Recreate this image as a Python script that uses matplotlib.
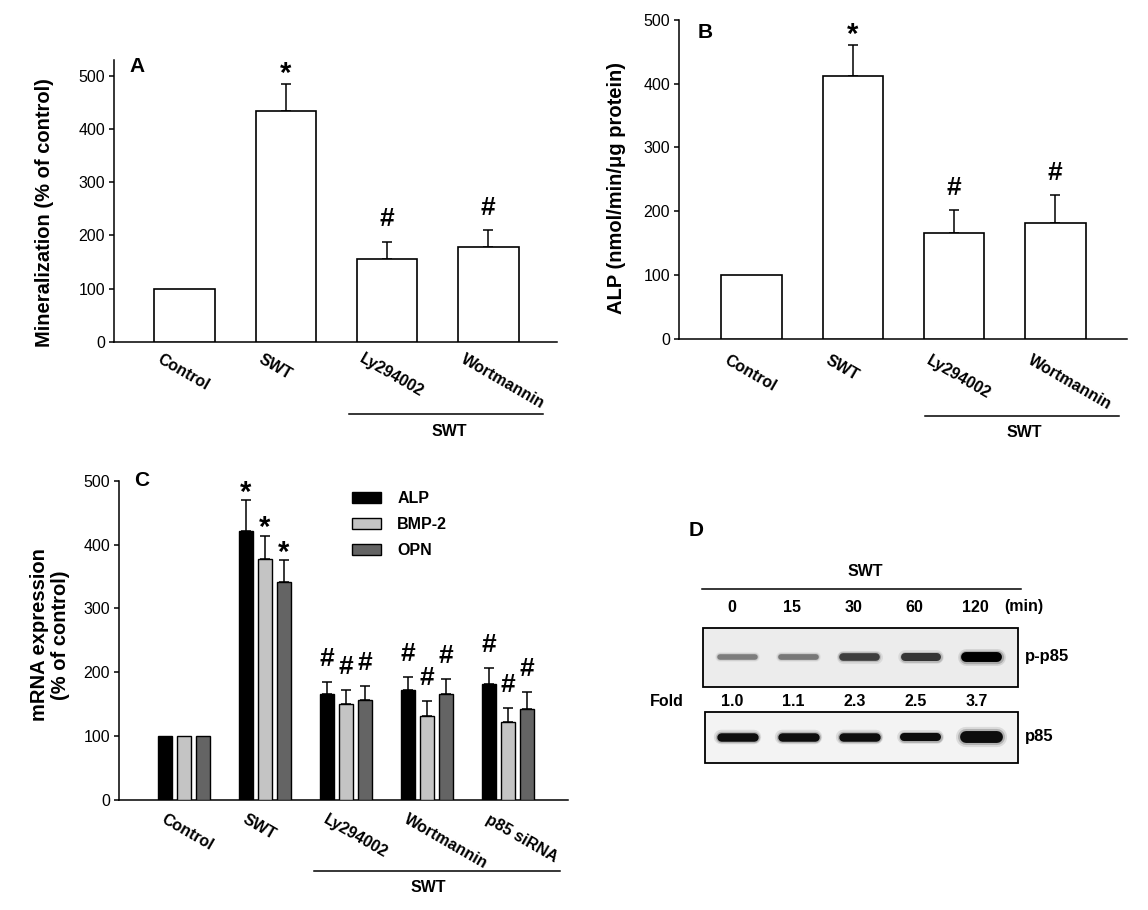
import numpy as np
import matplotlib
matplotlib.use('Agg')
import matplotlib.pyplot as plt
import matplotlib.transforms as mtransforms
from matplotlib.patches import Rectangle

plt.rcParams['font.family'] = ['Liberation Sans', 'DejaVu Sans']
plt.rcParams['axes.linewidth'] = 1.1
plt.rcParams['ytick.major.width'] = 1.1
plt.rcParams['ytick.major.size'] = 3.5
plt.rcParams['ytick.major.pad'] = 3

# ---------------- data ----------------
groups_ab = ['Control', 'SWT', 'Ly294002', 'Wortmannin']
mineral_mean = [100, 434, 156, 178]
mineral_err = [0, 51, 32, 32]
mineral_marks = ['', '*', '#', '#']

alp_act_mean = [100, 412, 166, 182]
alp_act_err = [0, 49, 36, 43]
alp_act_marks = ['', '*', '#', '#']

groups_c = ['Control', 'SWT', 'Ly294002', 'Wortmannin', 'p85 siRNA']
genes = ['ALP', 'BMP-2', 'OPN']
mrna_alp = [100, 421, 166, 172, 181]
mrna_alp_err = [0, 48, 19, 20, 25]
mrna_alp_marks = ['', '*', '#', '#', '#']
mrna_bmp2 = [100, 377, 151, 131, 122]
mrna_bmp2_err = [0, 37, 22, 24, 22]
mrna_bmp2_marks = ['', '*', '#', '#', '#']
mrna_opn = [100, 341, 156, 166, 142]
mrna_opn_err = [0, 35, 22, 24, 27]
mrna_opn_marks = ['', '*', '#', '#', '#']
gene_colors = ['#000000', '#c4c4c4', '#646464']

blot_times = ['0', '15', '30', '60', '120']
fold_change = [1.0, 1.1, 2.3, 2.5, 3.7]
p85_level = [1.0, 1.0, 1.0, 0.95, 1.4]

# ---------------- figure ----------------
W, H = 1148, 910
fig = plt.figure(figsize=(W / 100, H / 100), dpi=100)


def px_axes(x0, y0, x1, y1):
    return fig.add_axes([x0 / W, 1 - y1 / H, (x1 - x0) / W, (y1 - y0) / H])


def ftext(x, y, s, **kw):
    return fig.text(x / W, 1 - y / H, s, **kw)


def add_mark(ax, x, y, mk, star_off, hash_off):
    if not mk:
        return
    if mk == '*':
        ax.annotate('*', (x, y), xytext=(0, star_off), textcoords='offset points',
                    ha='center', va='baseline', fontsize=21, fontweight='bold')
    else:
        ax.annotate('#', (x, y), xytext=(0, hash_off), textcoords='offset points',
                    ha='center', va='baseline', fontsize=19, fontweight='bold')


def style_axes(ax, names, xpos, shift_pt, pad):
    for s in ['top', 'right']:
        ax.spines[s].set_visible(False)
    ax.set_yticks(range(0, 501, 100))
    ax.tick_params(axis='y', labelsize=11.5)
    ax.set_xticks(xpos)
    ax.set_xticklabels(names, rotation=-30, ha='left', fontweight='bold', fontsize=11.5)
    ax.tick_params(axis='x', length=0, pad=pad)
    off = mtransforms.ScaledTranslation(-shift_pt / 72, 0, fig.dpi_scale_trans)
    for lbl in ax.get_xticklabels():
        lbl.set_transform(lbl.get_transform() + off)


def group_line(ax, x0, x1, yl, xt, yt):
    tr = mtransforms.blended_transform_factory(ax.transData, ax.transAxes)
    ax.plot([x0, x1], [yl, yl], color='black', lw=1.1, transform=tr, clip_on=False)
    ax.text(xt, yt, 'SWT', transform=tr, ha='center', va='center',
            fontsize=11.5, fontweight='bold')


def simple_panel(ax, names, means, errs, marks, ymax, xlim):
    x = np.arange(len(names))
    ax.bar(x, means, width=0.6, color='white', edgecolor='black', linewidth=1.2, zorder=3)
    e = np.array(errs, float)
    m = e > 0
    ax.errorbar(x[m], np.array(means, float)[m], yerr=[np.zeros(m.sum()), e[m]],
                fmt='none', ecolor='black', elinewidth=1.1, capsize=3.8, capthick=1.1, zorder=2)
    for xi, mu, er, mk in zip(x, means, errs, marks):
        add_mark(ax, xi, mu + er, mk, 1.5, 11)
    ax.set_xlim(*xlim)
    ax.set_ylim(0, ymax)
    return x


# ---- Panel A ----
axA = px_axes(114, 60, 557, 341.7)
xA = simple_panel(axA, groups_ab, mineral_mean, mineral_err, mineral_marks, 530, (-0.70, 3.68))
style_axes(axA, groups_ab, xA, 21.6, 7)
group_line(axA, 1.62, 3.54, -0.257, 2.61, -0.318)
ftext(45, 213, 'Mineralization (% of control)', rotation=90, ha='center', va='center',
      fontsize=14.5, fontweight='bold')
ftext(137, 66, 'A', ha='center', va='center', fontsize=15, fontweight='bold')

# ---- Panel B ----
axB = px_axes(679, 20, 1127, 338.7)
xB = simple_panel(axB, groups_ab, alp_act_mean, alp_act_err, alp_act_marks, 500, (-0.72, 3.71))
style_axes(axB, groups_ab, xB, 21.6, 10)
group_line(axB, 1.71, 3.63, -0.2416, 2.69, -0.293)
ftext(616, 188, 'ALP (nmol/min/\u03bcg protein)', rotation=90, ha='center', va='center',
      fontsize=14.5, fontweight='bold')
ftext(705, 33, 'B', ha='center', va='center', fontsize=15, fontweight='bold')

# ---- Panel C ----
axC = px_axes(119, 480.7, 568, 800)
xC = np.arange(len(groups_c))
offsets = [-0.235, 0.0, 0.235]
series = [(mrna_alp, mrna_alp_err, mrna_alp_marks),
          (mrna_bmp2, mrna_bmp2_err, mrna_bmp2_marks),
          (mrna_opn, mrna_opn_err, mrna_opn_marks)]
for (vals, errs, marks), col, off, name in zip(series, gene_colors, offsets, genes):
    xs = xC + off
    axC.bar(xs, vals, width=0.17, color=col, edgecolor='black', linewidth=1.0,
            label=name, zorder=3)
    e = np.array(errs, float)
    m = e > 0
    axC.errorbar(xs[m], np.array(vals, float)[m], yerr=[np.zeros(m.sum()), e[m]],
                 fmt='none', ecolor='black', elinewidth=1.1, capsize=3.8, capthick=1.1, zorder=2)
    for xi, mu, er, mk in zip(xs, vals, errs, marks):
        add_mark(axC, xi, mu + er, mk, -0.5, 11.5)
axC.set_xlim(-0.80, 4.74)
axC.set_ylim(0, 500)
style_axes(axC, groups_c, xC, 18, 8.5)
group_line(axC, 1.60, 4.64, -0.2214, 3.02, -0.2756)
axC.legend(loc='upper left', bbox_to_anchor=(0.52, 0.967), frameon=False,
           prop={'weight': 'bold', 'size': 11.5}, handlelength=1.8, handleheight=0.62,
           handletextpad=1.0, labelspacing=0.68, borderpad=0, borderaxespad=0)
ftext(50, 635, 'mRNA expression\n(% of control)', rotation=90, ha='center', va='center',
      fontsize=14.5, fontweight='bold', linespacing=1.15)
ftext(142, 480, 'C', ha='center', va='center', fontsize=15, fontweight='bold')

# ---- Panel D (western blot) ----
axD = px_axes(630, 500, 1148, 790)
axD.set_xlim(630, 1148)
axD.set_ylim(790, 500)
axD.axis('off')
lane0, pitch = 737.5, 61.0
lanes = lane0 + pitch * np.arange(len(blot_times))


def band(ax, xc, yc, half, thick_px, gray):
    lw = thick_px * 72 / 100
    xs = [xc - half + thick_px / 2, xc + half - thick_px / 2]
    col = str(gray)
    for k, a in zip([1.7, 1.35], [0.10, 0.2]):
        ax.plot(xs, [yc, yc], color=col, lw=lw * k, alpha=a, solid_capstyle='round')
    ax.plot(xs, [yc, yc], color=col, lw=lw, solid_capstyle='round')


axD.add_patch(Rectangle((703, 628), 315, 59, facecolor='#ececec', edgecolor='black', lw=1.3))
axD.add_patch(Rectangle((705, 712), 313, 51, facecolor='#f3f3f3', edgecolor='black', lw=1.3))
for xc, f in zip(lanes, fold_change):
    g = float(np.clip(0.68 - 0.19 * f, 0, 1))
    band(axD, xc, 657, 20, 4 + 1.6 * f, g)
for xc, lv in zip(lanes, p85_level):
    band(axD, xc, 737, 21, 8.5 * lv, 0.05)

axD.text(696, 530, 'D', ha='center', va='center', fontsize=15, fontweight='bold')
axD.text(865, 572, 'SWT', ha='center', va='center', fontsize=11.5, fontweight='bold')
axD.plot([702, 1021], [589, 589], color='black', lw=1.1)
for xc, t in zip(lanes, blot_times):
    axD.text(xc - 6, 608, t, ha='center', va='center', fontsize=11.5, fontweight='bold')
axD.text(1024, 607, '(min)', ha='center', va='center', fontsize=11.5, fontweight='bold')
for xc, f in zip(lanes, fold_change):
    axD.text(xc - 5, 702, f'{f:.1f}', ha='center', va='center', fontsize=11.5, fontweight='bold')
axD.text(667, 702, 'Fold', ha='center', va='center', fontsize=11.5, fontweight='bold')
axD.text(1025, 657, 'p-p85', ha='left', va='center', fontsize=12, fontweight='bold')
axD.text(1025, 737, 'p85', ha='left', va='center', fontsize=12, fontweight='bold')

fig.savefig('out.png', dpi=100)
